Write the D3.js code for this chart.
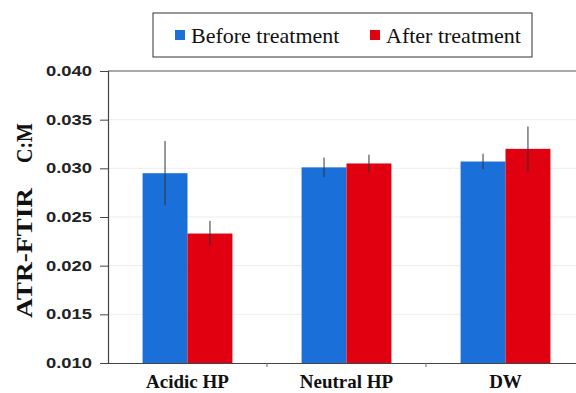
<!DOCTYPE html>
<html lang="en">
<head>
    <meta charset="UTF-8">
    <script src="https://d3js.org/d3.v7.min.js"></script>
    <title>ATR-FTIR C:M</title>
    <style>
    body{ margin: 0; background: #fff; }
    svg{ display: block; }
    .ytick text{ font-family: "Liberation Sans", Arial, sans-serif; font-weight: bold; font-size: 14px; fill: #222; }
    .cat{ font-family: "Liberation Serif", "Times New Roman", serif; font-weight: bold; font-size: 19px; fill: #111; }
    .ttl{ font-family: "Liberation Serif", "Times New Roman", serif; font-weight: bold; font-size: 24px; fill: #111; }
    </style>
</head>
<body>
<svg width="576" height="393"></svg>
<script>
    const categories = ["Acidic HP", "Neutral HP", "DW"]
    const seriesNames = ["Before treatment", "After treatment"]
    const before = [0.0295, 0.0301, 0.0307]
    const beforeErr = [0.0033, 0.0010, 0.0008]
    const after = [0.0233, 0.0305, 0.0320]
    const afterErr = [0.0013, 0.0009, 0.0023]
    const yTicks = [0.010, 0.015, 0.020, 0.025, 0.030, 0.035, 0.040]
    const colors = ["#1b6fd8", "#e0000f"]

    const mLeft = 108, mRight = 585, mTop = 71, mBottom = 363
    const svg = d3.select("svg")

    const x = d3.scaleBand().domain(categories).range([mLeft, mRight])
    const xs = d3.scaleBand().domain(seriesNames).range([0, x.bandwidth()]).paddingInner(0).paddingOuter(0.77)
    const y = d3.scaleLinear().domain([0.010, 0.040]).range([mBottom, mTop])

    // faint gridlines
    svg.append("g").selectAll("line").data(yTicks.slice(1, -1)).enter().append("line")
        .attr("x1", mLeft).attr("x2", mRight)
        .attr("y1", d => y(d)).attr("y2", d => y(d))
        .attr("stroke", "#ededed").attr("stroke-width", 1)

    // top frame line
    svg.append("line").attr("x1", mLeft).attr("x2", mRight).attr("y1", y(0.040)).attr("y2", y(0.040))
        .attr("stroke", "#555").attr("stroke-width", 1.2)

    const rows = categories.map((c, i) => [
        {cat: c, s: seriesNames[0], v: before[i], e: beforeErr[i], col: colors[0]},
        {cat: c, s: seriesNames[1], v: after[i], e: afterErr[i], col: colors[1]}
    ]).flat()

    svg.append("g").selectAll("rect").data(rows).enter().append("rect")
        .attr("x", d => x(d.cat) + xs(d.s))
        .attr("width", xs.bandwidth())
        .attr("y", d => y(d.v))
        .attr("height", d => y(0.010) - y(d.v))
        .attr("fill", d => d.col)

    // error bars
    svg.append("g").selectAll("line").data(rows).enter().append("line")
        .attr("x1", d => x(d.cat) + xs(d.s) + xs.bandwidth() / 2)
        .attr("x2", d => x(d.cat) + xs(d.s) + xs.bandwidth() / 2)
        .attr("y1", d => y(d.v - d.e)).attr("y2", d => y(d.v + d.e))
        .attr("stroke", "#333").attr("stroke-width", 1)

    // axes
    const yAxis = svg.append("g").attr("class", "ytick").attr("transform", `translate(${mLeft},0)`)
        .call(d3.axisLeft(y).tickValues(yTicks).tickFormat(d3.format(".3f")).tickSize(8).tickPadding(8))
    yAxis.select(".domain").attr("stroke", "#444").attr("stroke-width", 1.2)
    yAxis.selectAll(".tick line").attr("stroke", "#444")
    yAxis.selectAll(".tick text").attr("textLength", 46).attr("lengthAdjust", "spacingAndGlyphs")

    const xAxis = svg.append("g").attr("transform", `translate(0,${mBottom})`)
        .call(d3.axisBottom(x).tickSize(0).tickFormat(""))
    xAxis.select(".domain").attr("stroke", "#444").attr("stroke-width", 1.2)
    // small ticks between categories
    svg.append("g").selectAll("line").data(categories.slice(1)).enter().append("line")
        .attr("x1", d => x(d)).attr("x2", d => x(d))
        .attr("y1", mBottom).attr("y2", mBottom + 4)
        .attr("stroke", "#666")

    svg.append("g").selectAll("text").data(categories).enter().append("text")
        .attr("class", "cat")
        .attr("x", d => x(d) + x.bandwidth() / 2)
        .attr("y", 388)
        .attr("text-anchor", "middle")
        .text(d => d)

    // y title, two pieces
    svg.append("text").attr("class", "ttl")
        .attr("transform", "translate(32,253) rotate(-90)")
        .attr("text-anchor", "middle")
        .attr("textLength", 130).attr("lengthAdjust", "spacingAndGlyphs")
        .text("ATR-FTIR")
    svg.append("text").attr("class", "ttl")
        .attr("transform", "translate(32,143) rotate(-90)")
        .attr("text-anchor", "middle")
        .attr("textLength", 40).attr("lengthAdjust", "spacingAndGlyphs")
        .text("C:M")

    // legend
    const lg = svg.append("g")
    lg.append("rect").attr("x", 153).attr("y", 13).attr("width", 379).attr("height", 44)
        .attr("fill", "#fff").attr("stroke", "#333").attr("stroke-width", 1)
    const lx = [175, 370]
    seriesNames.forEach((s, i) => {
        lg.append("rect").attr("x", lx[i]).attr("y", 30).attr("width", 10).attr("height", 10).attr("fill", colors[i])
        lg.append("text").attr("x", lx[i] + 16).attr("y", 43)
            .style("font-family", '"Liberation Serif", "Times New Roman", serif')
            .style("font-size", "22px").style("fill", "#111")
            .text(s)
    })
</script>
</body>
</html>
